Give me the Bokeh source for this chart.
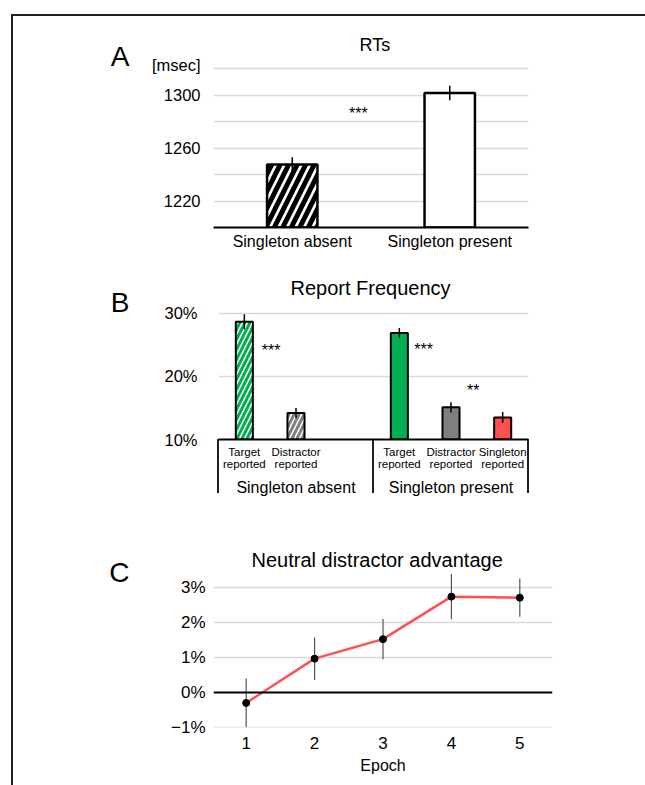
from bokeh.plotting import figure
from bokeh.models import (ColumnDataSource, FactorRange, Range1d, FixedTicker, Label,
                          Span, PrintfTickFormatter, LinearAxis)
from bokeh.embed import file_html
from bokeh.resources import INLINE

# ---------------- data ----------------
# Panel A: RTs
rt_conditions = ["Singleton absent", "Singleton present"]
rt_means = [1247.5, 1301.5]
rt_errors = [5.5, 5.5]
rt_yticks = [1220, 1260, 1300]
rt_gridticks = [1220, 1240, 1260, 1280, 1300, 1320]

# Panel B: Report frequency (%)
rf_groups = ["Singleton absent", "Singleton absent", "Singleton absent",
             "Singleton present", "Singleton present", "Singleton present"]
rf_labels = ["Target\nreported", "Distractor\nreported", " ",
             "Target\nreported", "Distractor\nreported", "Singleton\nreported"]
rf_values = [28.7, 14.2, None, 26.9, 15.1, 13.5]
rf_errors = [1.2, 0.8, None, 0.8, 0.8, 0.85]
rf_yticks = [10, 20, 30]
rf_gridticks = [20, 30]

# Panel C: Neutral distractor advantage (%)
epochs = [1, 2, 3, 4, 5]
advantage = [-0.3, 0.97, 1.53, 2.75, 2.72]
advantage_err = [0.7, 0.61, 0.58, 0.65, 0.55]
adv_yticks = [-1, 0, 1, 2, 3]
adv_gridticks = [-1, 1, 2, 3]

# ---------------- styles ----------------
FONT = "Liberation Sans"
INK = "#231f20"
GRID = "#d9d9d9"
GREEN = "#00b050"
GRAY = "#7f7f7f"
RED = "#ff5050"
rf_fill = ["white", "white", None, GREEN, GRAY, RED]
rf_hatch = ["/", "/", None, " ", " ", " "]
rf_hatch_color = [GREEN, GRAY, None, "black", "black", "black"]
rt_hatch = ["/", " "]

W = 645


def bar_css(x, y, w, h):
    return f"linear-gradient({INK}, {INK}) {x}px {y}px / {w} {h} no-repeat"


def base(p):
    p.outline_line_color = None
    p.background_fill_color = "white"
    p.border_fill_color = None
    p.xgrid.grid_line_color = None


def set_title(p, text, size, offset, standoff):
    t = p.title
    t.text = text
    t.align = "left"
    t.offset = offset
    t.standoff = standoff
    t.text_font = FONT
    t.text_font_size = size
    t.text_font_style = "normal"
    t.text_color = "black"


def style_axis(ax, size, standoff, line=None):
    ax.major_label_text_font = FONT
    ax.major_label_text_font_size = size
    ax.major_label_text_color = "black"
    ax.major_label_standoff = standoff
    ax.major_tick_line_color = None
    ax.minor_tick_line_color = None
    ax.major_tick_out = 0
    ax.major_tick_in = 0
    if line is None:
        ax.axis_line_color = None
    else:
        ax.axis_line_color = "black"
        ax.axis_line_width = line


def panel_letter(p, letter, standoff, pos=1.0):
    p.extra_y_ranges = {"letter": Range1d(0, 1)}
    ax = LinearAxis(y_range_name="letter", ticker=FixedTicker(ticks=[pos]),
                    major_label_overrides={pos: letter})
    style_axis(ax, "28px", standoff)
    p.add_layout(ax, "left")


def star(p, x, y, text):
    p.add_layout(Label(x=x, y=y, text=text, text_font=FONT, text_font_size="16px",
                       text_align="center", text_baseline="middle", text_color="black"))


# ---------------- Panel A ----------------
HA = 255
LA, RA, TA, BA = 213, 117, 56, 28          # frame 213..528, y 56..227
pA = figure(width=W, height=HA, x_range=FactorRange(*rt_conditions),
            y_range=Range1d(1200, 1329.06), output_backend="svg", toolbar_location=None,
            min_border_left=LA, min_border_right=RA, min_border_top=TA,
            min_border_bottom=BA)
base(pA)
pA.styles = {"background": ", ".join([
    bar_css(11, 14, "2px", "calc(100% - 14px)"),
    bar_css(11, 14, "calc(100% - 11px)", "2px")])}
srcA = ColumnDataSource(dict(
    x=rt_conditions, top=rt_means,
    lo=[m - e for m, e in zip(rt_means, rt_errors)],
    hi=[m + e for m, e in zip(rt_means, rt_errors)],
    hatch_pat=rt_hatch))
pA.vbar(x="x", top="top", bottom=1200, width=0.32, source=srcA,
        fill_color="white", line_color="black", line_width=2.5,
        hatch_pattern="hatch_pat", hatch_color="black", hatch_scale=17, hatch_weight=5)
pA.segment(x0="x", y0="lo", x1="x", y1="hi", source=srcA, line_color="black", line_width=1.5)
style_axis(pA.xaxis[0], "16px", 5, line=2)
ya = pA.yaxis[0]
style_axis(ya, "16.5px", 13)
ya.ticker = FixedTicker(ticks=rt_yticks + [1322.3])
ya.major_label_overrides = {1322.3: "[msec]"}
pA.ygrid.ticker = FixedTicker(ticks=rt_gridticks)
pA.ygrid.grid_line_color = GRID
pA.ygrid.grid_line_width = 1.3
star(pA, 0.92, 1286.2, "***")
set_title(pA, "RTs", "18px", 146, 3)
panel_letter(pA, "A", 19)

# ---------------- Panel B ----------------
HB = 250
LB, RB, TB, BB = 218, 117, 47, 66          # frame 218..528, y 47..184 (page 302..439)
rf_factors = list(zip(rf_groups, rf_labels))
keep = [i for i, v in enumerate(rf_values) if v is not None]
pB = figure(width=W, height=HB,
            x_range=FactorRange(*rf_factors, group_padding=0, factor_padding=0),
            y_range=Range1d(10, 31.746), output_backend="svg", toolbar_location=None,
            min_border_left=LB, min_border_right=RB, min_border_top=TB,
            min_border_bottom=BB)
base(pB)
fwB = W - LB - RB
sepB = [bar_css(round(LB + k * fwB / 6) - 1, HB - BB, "2px", "54px") for k in (0, 3, 6)]
pB.styles = {"background": ", ".join([bar_css(11, 0, "2px", "100%")] + sepB)}
srcB = ColumnDataSource(dict(
    x=[rf_factors[i] for i in keep],
    top=[rf_values[i] for i in keep],
    lo=[rf_values[i] - rf_errors[i] for i in keep],
    hi=[rf_values[i] + rf_errors[i] for i in keep],
    fill=[rf_fill[i] for i in keep],
    hatch_pat=[rf_hatch[i] for i in keep],
    hatch_col=[rf_hatch_color[i] for i in keep]))
pB.vbar(x="x", top="top", bottom=10, width=0.33, source=srcB,
        fill_color="fill", line_color="black", line_width=2,
        hatch_pattern="hatch_pat", hatch_color="hatch_col", hatch_scale=10, hatch_weight=3)
pB.segment(x0="x", y0="lo", x1="x", y1="hi", source=srcB, line_color="black", line_width=1.5)
xb = pB.xaxis[0]
style_axis(xb, "11.5px", 6, line=2)
xb.major_label_text_line_height = 1.05
xb.group_text_font = FONT
xb.group_text_font_size = "16px"
xb.group_text_font_style = "normal"
xb.group_text_color = "black"
xb.separator_line_color = None
yb = pB.yaxis[0]
style_axis(yb, "16.5px", 21)
yb.ticker = FixedTicker(ticks=rf_yticks)
yb.formatter = PrintfTickFormatter(format="%d%%")
pB.ygrid.ticker = FixedTicker(ticks=rf_gridticks)
pB.ygrid.grid_line_color = GRID
pB.ygrid.grid_line_width = 1.3
star(pB, 1.02, 24.1, "***")
star(pB, 3.97, 24.3, "***")
star(pB, 4.93, 17.8, "**")
set_title(pB, "Report Frequency", "20px", 72, 8)
panel_letter(pB, "B", 32)

# ---------------- Panel C ----------------
HC = 280
LC, RC, TC, BC = 213, 93, 65, 58           # frame 213..552, y 65..222 (page 570..727)
pC = figure(width=W, height=HC, x_range=Range1d(0.522, 5.478), y_range=Range1d(-1.005, 3.5),
            output_backend="svg", toolbar_location=None,
            min_border_left=LC, min_border_right=RC, min_border_top=TC,
            min_border_bottom=BC)
base(pC)
pC.styles = {"background": bar_css(11, 0, "2px", "100%")}
pC.ygrid.ticker = FixedTicker(ticks=adv_gridticks)
pC.ygrid.grid_line_color = GRID
pC.ygrid.grid_line_width = 1.3
pC.add_layout(Span(location=0, dimension="width", line_color="black", line_width=1.8))
srcC = ColumnDataSource(dict(
    x=epochs, y=advantage,
    lo=[m - e for m, e in zip(advantage, advantage_err)],
    hi=[m + e for m, e in zip(advantage, advantage_err)]))
pC.segment(x0="x", y0="lo", x1="x", y1="hi", source=srcC, line_color="#555555", line_width=1.2)
pC.line(x="x", y="y", source=srcC, line_color=RED, line_width=2.5)
pC.scatter(x="x", y="y", source=srcC, size=7, fill_color="black", line_color="black")
xc = pC.xaxis[0]
style_axis(xc, "17px", 9)
xc.ticker = FixedTicker(ticks=epochs)
xc.axis_label = "Epoch"
xc.axis_label_text_font = FONT
xc.axis_label_text_font_size = "16px"
xc.axis_label_text_font_style = "normal"
xc.axis_label_text_color = "black"
xc.axis_label_standoff = 5
yc = pC.yaxis[0]
style_axis(yc, "17px", 8)
yc.ticker = FixedTicker(ticks=adv_yticks)
yc.major_label_overrides = {t: (f"{t}%").replace("-", "\u2212") for t in adv_yticks}
set_title(pC, "Neutral distractor advantage", "20px", 38, 0)
panel_letter(pC, "C", 39, 0.989)

open("out.html", "w").write(file_html([pA, pB, pC], INLINE))
